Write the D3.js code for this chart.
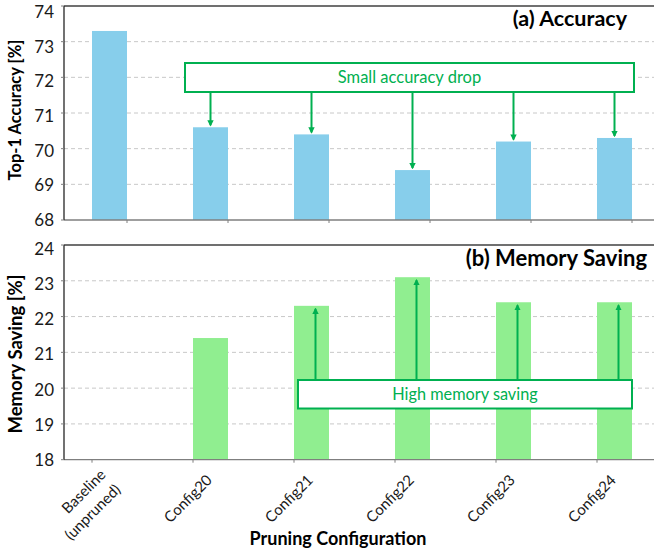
<!DOCTYPE html>
<html>
<head>
<meta charset="utf-8">
<script src="https://cdn.jsdelivr.net/npm/d3@7"></script>
<style>
  body { margin: 0; background: #fff; }
  svg { display: block; font-family: Lato, "Open Sans", sans-serif; }
</style>
</head>
<body>
<svg width="654" height="552"></svg>
<script>
// chart values
var categories = ["Baseline\n(unpruned)", "Config20", "Config21", "Config22", "Config23", "Config24"];
var accuracy = [73.3, 70.6, 70.4, 69.4, 70.2, 70.3];
var memorySaving = [0, 21.4, 22.3, 23.1, 22.4, 22.4];
var accTicks = [68, 69, 70, 71, 72, 73, 74];
var memTicks = [18, 19, 20, 21, 22, 23, 24];

var svg = d3.select("svg"),
    width = +svg.attr("width"),
    left = 64;

var green = "#00B050";

var x = d3.scaleBand()
    .domain(categories)
    .range([76.5, 682.5]);

// bars sit on the left half of each band
var barW = 35;
function barX(c) { return x(c) + x.bandwidth() / 2 - barW; }

var defs = svg.append("defs");
defs.append("marker")
    .attr("id", "head")
    .attr("viewBox", "0 0 10 10")
    .attr("refX", 8).attr("refY", 5)
    .attr("markerWidth", 3.2).attr("markerHeight", 3.2)
    .attr("orient", "auto")
  .append("path")
    .attr("d", "M0,0 L10,5 L0,10 Z")
    .attr("fill", green);

var ya = d3.scaleLinear().domain([68, 74]).range([220, 6]);
var ym = d3.scaleLinear().domain([18, 24]).range([459.7, 245]);

function panel(o) {
    var y = o.y;
    var g = svg.append("g");
    var y0 = y.range()[0], y1 = y.range()[1];

    // gridlines
    g.append("g")
        .selectAll("line")
        .data(o.ticks.slice(1, -1))
        .join("line")
          .attr("x1", left).attr("x2", width)
          .attr("y1", d => y(d)).attr("y2", d => y(d))
          .attr("stroke", "#c8c8c8")
          .attr("stroke-dasharray", "4,3")
          .attr("stroke-width", 1);

    // bars (values below the axis minimum are not drawn)
    g.append("g")
        .selectAll("rect")
        .data(o.values.map((v, i) => ({v: v, c: categories[i]})).filter(d => d.v > y.domain()[0]))
        .join("rect")
          .attr("x", d => barX(d.c))
          .attr("width", barW)
          .attr("y", d => y(d.v))
          .attr("height", d => y0 - y(d.v))
          .attr("fill", o.color);

    // top border
    g.append("line")
        .attr("x1", left).attr("x2", width)
        .attr("y1", y1).attr("y2", y1)
        .attr("stroke", "#404040").attr("stroke-width", 1.3);

    // bottom axis, ticks on one edge of the bars
    g.append("line")
        .attr("x1", left).attr("x2", width)
        .attr("y1", y0).attr("y2", y0)
        .attr("stroke", "#7f7f7f").attr("stroke-width", 1.3);
    g.append("g")
        .selectAll("line")
        .data(categories)
        .join("line")
          .attr("x1", d => barX(d) + o.tickAt)
          .attr("x2", d => barX(d) + o.tickAt)
          .attr("y1", y0).attr("y2", y0 + 3)
          .attr("stroke", "#7f7f7f");

    // left axis
    g.append("line")
        .attr("x1", left).attr("x2", left)
        .attr("y1", y0).attr("y2", y1)
        .attr("stroke", "#262626").attr("stroke-width", 1.3);

    // tick labels are drawn a little compressed toward the bottom, as in the original
    var yl = y.copy().range([y0, o.labelTop]);
    g.append("g")
        .selectAll("line")
        .data(o.ticks)
        .join("line")
          .attr("x1", left - 3).attr("x2", left)
          .attr("y1", d => y(d)).attr("y2", d => y(d))
          .attr("stroke", "#7f7f7f");
    g.append("g")
        .selectAll("text")
        .data(o.ticks)
        .join("text")
          .attr("x", left - 10)
          .attr("y", d => yl(d))
          .attr("dy", "0.36em")
          .attr("text-anchor", "end")
          .attr("font-size", 17)
          .attr("fill", "#1a1a1a")
          .text(d => d);

    g.append("text")
        .attr("transform", "translate(" + o.ylabelX + "," + o.ylabelY + ") rotate(-90)")
        .attr("text-anchor", "middle")
        .attr("font-size", o.ylabelSize)
        .attr("font-weight", "bold")
        .text(o.ylabel);

    g.append("text")
        .attr("x", o.titleX)
        .attr("y", o.titleY)
        .attr("text-anchor", "end")
        .attr("font-size", o.titleSize)
        .attr("font-weight", "bold")
        .text(o.title);

    return g;
}

var panelA = panel({y: ya, ticks: accTicks, values: accuracy, color: "#87CEEB",
    title: "(a) Accuracy", titleX: 627, titleY: 26, titleSize: 21.5,
    ylabel: "Top-1 Accuracy [%]", ylabelX: 21, ylabelY: 110, ylabelSize: 16.5,
    labelTop: 12, tickAt: barW});
var panelB = panel({y: ym, ticks: memTicks, values: memorySaving, color: "#90EE90",
    title: "(b) Memory Saving", titleX: 647, titleY: 266, titleSize: 22,
    ylabel: "Memory Saving [%]", ylabelX: 22, ylabelY: 354, ylabelSize: 18.5,
    labelTop: 249, tickAt: 0});

// ---- annotation (a): box with arrows down to each pruned bar
var boxA = {x0: 185, x1: 634, y0: 63, y1: 92};
panelA.append("rect")
    .attr("x", boxA.x0).attr("y", boxA.y0)
    .attr("width", boxA.x1 - boxA.x0).attr("height", boxA.y1 - boxA.y0)
    .attr("fill", "#fff").attr("stroke", green).attr("stroke-width", 2);
panelA.append("text")
    .attr("x", (boxA.x0 + boxA.x1) / 2).attr("y", (boxA.y0 + boxA.y1) / 2)
    .attr("dy", "0.35em")
    .attr("text-anchor", "middle")
    .attr("font-size", 16.5)
    .attr("fill", green)
    .text("Small accuracy drop");
panelA.append("g")
    .selectAll("line")
    .data(accuracy.map((v, i) => ({v: v, c: categories[i]})).slice(1))
    .join("line")
      .attr("x1", d => barX(d.c) + barW / 2)
      .attr("x2", d => barX(d.c) + barW / 2)
      .attr("y1", boxA.y1 + 1)
      .attr("y2", d => ya(d.v) - 2)
      .attr("stroke", green).attr("stroke-width", 2)
      .attr("marker-end", "url(#head)");

// ---- annotation (b): arrows up from the box to the top of each bar
var boxB = {x0: 298, x1: 632, y0: 380, y1: 408.5};
panelB.append("g")
    .selectAll("line")
    .data(memorySaving.map((v, i) => ({v: v, c: categories[i]})).slice(2))
    .join("line")
      .attr("x1", d => barX(d.c) + barW / 2 + 4)
      .attr("x2", d => barX(d.c) + barW / 2 + 4)
      .attr("y1", boxB.y0)
      .attr("y2", d => ym(d.v) + 3)
      .attr("stroke", green).attr("stroke-width", 2)
      .attr("marker-end", "url(#head)");
panelB.append("rect")
    .attr("x", boxB.x0).attr("y", boxB.y0)
    .attr("width", boxB.x1 - boxB.x0).attr("height", boxB.y1 - boxB.y0)
    .attr("fill", "#fff").attr("stroke", green).attr("stroke-width", 2);
panelB.append("text")
    .attr("x", (boxB.x0 + boxB.x1) / 2).attr("y", (boxB.y0 + boxB.y1) / 2)
    .attr("dy", "0.35em")
    .attr("text-anchor", "middle")
    .attr("font-size", 16.3)
    .attr("fill", green)
    .text("High memory saving");

// ---- category labels under the lower panel
var lab = svg.append("g")
    .selectAll("text")
    .data(categories)
    .join("text")
      .attr("transform", d => "translate(" + (barX(d) + 20) + ",481) rotate(-45)")
      .attr("text-anchor", "end")
      .attr("font-size", 15)
      .attr("fill", "#1a1a1a");
lab.each(function(d) {
    var lines = d.split("\n");
    d3.select(this).selectAll("tspan")
        .data(lines)
        .join("tspan")
          .attr("x", 0)
          .attr("y", (l, i) => (i - (lines.length - 1) / 2) * 21 + (lines.length > 1 ? 3 : 0))
          .text(l => l);
});

svg.append("text")
    .attr("x", 338).attr("y", 545)
    .attr("text-anchor", "middle")
    .attr("font-size", 18)
    .attr("font-weight", "bold")
    .text("Pruning Configuration");
</script>
</body>
</html>
